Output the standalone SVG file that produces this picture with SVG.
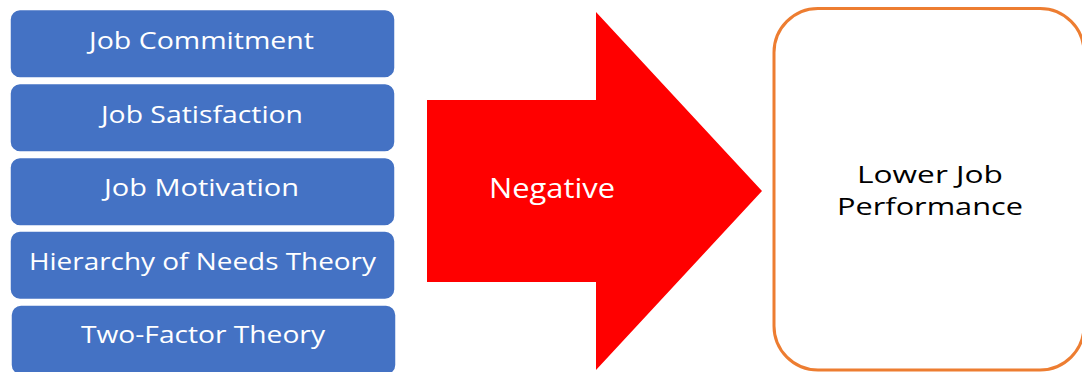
<svg xmlns="http://www.w3.org/2000/svg" width="1082" height="372" viewBox="0 0 1082 372">
  <style>
    .box { fill: #4472C4; stroke: #ffffff; stroke-width: 1.5; }
    .lbl { font-family: "Open Sans", "Liberation Sans", sans-serif; font-size: 24px; fill: #ffffff; text-anchor: middle; }
    .neg { font-family: "Open Sans", "Liberation Sans", sans-serif; font-size: 27px; fill: #ffffff; text-anchor: middle; }
    .out { font-family: "Open Sans", "Liberation Sans", sans-serif; font-size: 24px; fill: #000000; text-anchor: middle; }
  </style>
  <rect width="1082" height="372" fill="#ffffff"/>
  <g id="node-job-commitment">
    <rect class="box" x="10" y="9.5" width="385" height="68.5" rx="10"/>
    <text class="lbl" x="201.5" y="49" textLength="225" lengthAdjust="spacingAndGlyphs">Job Commitment</text>
  </g>
  <g id="node-job-satisfaction">
    <rect class="box" x="10" y="83.5" width="385" height="68.5" rx="10"/>
    <text class="lbl" x="202" y="123" textLength="202" lengthAdjust="spacingAndGlyphs">Job Satisfaction</text>
  </g>
  <g id="node-job-motivation">
    <rect class="box" x="10" y="157.5" width="385" height="68.5" rx="10"/>
    <text class="lbl" x="201.5" y="196" textLength="195" lengthAdjust="spacingAndGlyphs">Job Motivation</text>
  </g>
  <g id="node-hierarchy">
    <rect class="box" x="10" y="231" width="385" height="68.5" rx="10"/>
    <text class="lbl" x="202.5" y="270" textLength="347" lengthAdjust="spacingAndGlyphs">Hierarchy of Needs Theory</text>
  </g>
  <g id="node-two-factor">
    <rect class="box" x="11" y="305" width="385" height="70" rx="10"/>
    <text class="lbl" x="203" y="343" textLength="244" lengthAdjust="spacingAndGlyphs">Two-Factor Theory</text>
  </g>
  <g id="connectors">
    <polygon points="427,100 596,100 596,12 762,191 596,370 596,282 427,282" fill="#FF0000"/>
    <text class="neg" x="552" y="198" textLength="126" lengthAdjust="spacingAndGlyphs">Negative</text>
  </g>
  <g id="node-lower-job-performance">
    <rect x="774" y="8.5" width="310" height="361.5" rx="44" fill="#ffffff" stroke="#ED7D31" stroke-width="3"/>
    <text class="out" x="930" y="183" textLength="146" lengthAdjust="spacingAndGlyphs">Lower Job</text>
    <text class="out" x="930" y="215" textLength="186" lengthAdjust="spacingAndGlyphs">Performance</text>
  </g>
</svg>
